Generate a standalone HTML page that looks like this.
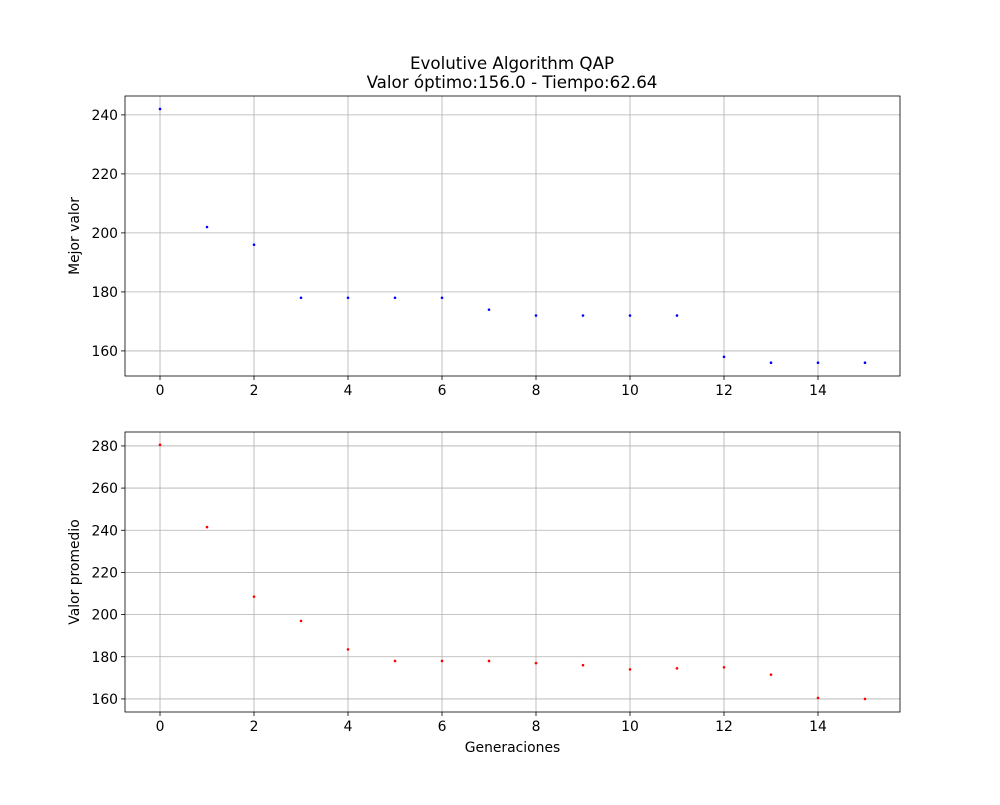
<!DOCTYPE html>
<html><head><meta charset="utf-8"><style>
body{margin:0;background:#fff;}
svg text{font-family:"DejaVu Sans","Liberation Sans",sans-serif;fill:#000;}
</style></head><body>
<svg id="fig" width="1000" height="800" xmlns="http://www.w3.org/2000/svg">
<rect width="1000" height="800" fill="#fff"/>
<text x="512" y="69" font-size="16.7" text-anchor="middle">Evolutive Algorithm QAP</text>
<text x="512" y="88" font-size="16.7" text-anchor="middle">Valor óptimo:156.0 - Tiempo:62.64</text>
</svg>
<script>
const generations=[0,1,2,3,4,5,6,7,8,9,10,11,12,13,14,15];
const bestValues=[242,202,196,178,178,178,178,174,172,172,172,172,158,156,156,156];
const avgValues=[280.5,241.5,208.5,197,183.5,178,178,178,177,176,174,174.5,175,171.5,160.5,160];
const xTicks=[0,2,4,6,8,10,12,14];
const topYTicks=[160,180,200,220,240];
const botYTicks=[160,180,200,220,240,260,280];

const NS="http://www.w3.org/2000/svg";
const svg=document.getElementById('fig');
function mk(tag,attrs,parent){const e=document.createElementNS(NS,tag);for(const k in attrs)e.setAttribute(k,attrs[k]);(parent||svg).appendChild(e);return e;}

function panel(name,top,bottom,ymin,ymax,yTicks,vals,color,ylabel,showX){
  const L=125,R=900,xmin=-0.745,xmax=15.745;
  const sx=v=>L+(v-xmin)/(xmax-xmin)*(R-L);
  const sy=v=>bottom-(v-ymin)/(ymax-ymin)*(bottom-top);
  const g=mk('g',{});
  
  
  xTicks.forEach(t=>{
    const x=sx(t);
    const gl=mk('line',{x1:x,x2:x,y1:top,y2:bottom,stroke:'#b0b0b0','stroke-width':0.8},g);
    
    
    mk('line',{x1:x,x2:x,y1:bottom,y2:bottom+4,stroke:'#000','stroke-width':0.8},g);
    const tx=mk('text',{x:x,y:bottom+19,'font-size':13.9,'text-anchor':'middle'},g);
    tx.textContent=t;
    
    
  });
  yTicks.forEach(t=>{
    const y=sy(t);
    const gl=mk('line',{x1:L,x2:R,y1:y,y2:y,stroke:'#b0b0b0','stroke-width':0.8},g);
    
    
    mk('line',{x1:L-4,x2:L,y1:y,y2:y,stroke:'#000','stroke-width':0.8},g);
    const tx=mk('text',{x:L-7,y:y+5,'font-size':13.9,'text-anchor':'end'},g);
    tx.textContent=t;
    
    
  });
  generations.forEach((gen,i)=>{
    const c=mk('circle',{cx:sx(gen),cy:sy(vals[i]),r:1.3,fill:color},g);
    
    
  });
  const fr=mk('rect',{x:L,y:top,width:R-L,height:bottom-top,fill:'none',stroke:'#000','stroke-width':0.8},g);
  
  
  const yl=mk('text',{x:0,y:0,'font-size':13.9,'text-anchor':'middle',transform:`translate(79,${(top+bottom)/2}) rotate(-90)`},g);
  yl.textContent=ylabel;
  
  
  if(showX){
    const xl=mk('text',{x:(L+R)/2,y:bottom+40,'font-size':13.9,'text-anchor':'middle'},g);
    xl.textContent='Generaciones';
    
    
  }
}
panel('best-value',96,376,151.5,246.4,topYTicks,bestValues,'#0000ff','Mejor valor',false);
panel('average-value',432,712,153.8,286.6,botYTicks,avgValues,'#ff0000','Valor promedio',true);
</script>
</body></html>
